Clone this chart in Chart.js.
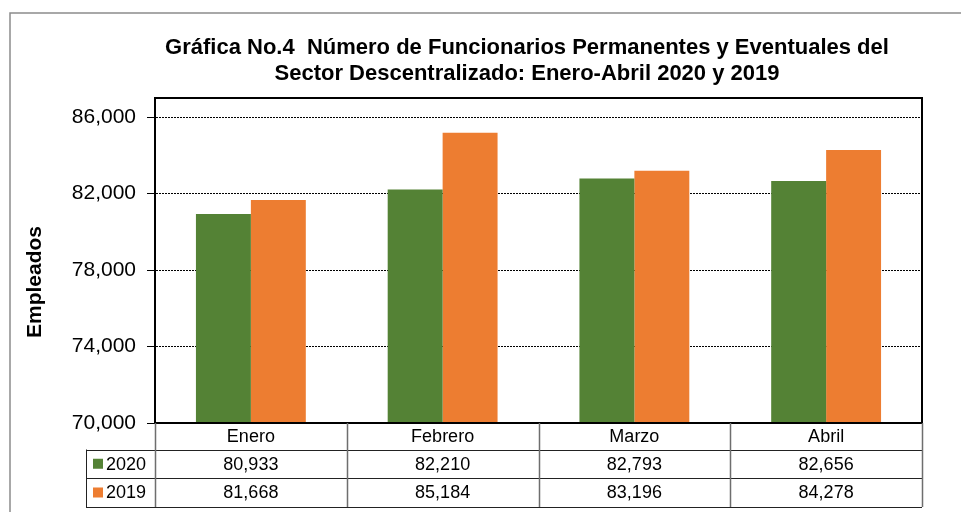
<!DOCTYPE html>
<html>
<head>
<meta charset="utf-8">
<script src="https://cdn.jsdelivr.net/npm/chart.js@4.4.1/dist/chart.umd.min.js"></script>
<style>
  html, body { margin: 0; padding: 0; background: #fff; }
  #wrap { position: relative; width: 961px; height: 512px; }
</style>
</head>
<body>
<div id="wrap"><canvas id="chart" width="961" height="512"></canvas></div>
<script>
/* ===============================
   DATA
================================ */
const months = ["Enero", "Febrero", "Marzo", "Abril"];
const years = ["2020", "2019"];
const values2020 = [80933, 82210, 82793, 82656];
const values2019 = [81668, 85184, 83196, 84278];
const yTicks = [70000, 74000, 78000, 82000, 86000];
const titleLines = [
  "Gráfica No.4  Número de Funcionarios Permanentes y Eventuales del",
  "Sector Descentralizado: Enero-Abril 2020 y 2019"
];
const yTitle = "Empleados";
const seriesColors = ["#548235", "#ED7D31"];

const FONT = '"Liberation Sans", Arial, sans-serif';
const fmt = v => v.toLocaleString("en-US");

/* ===============================
   FRAME, TITLE AND DATA TABLE
================================ */
const tablePlugin = {
  id: "tablePlugin",
  afterDraw(chart) {
    const ctx = chart.ctx;
    const area = chart.chartArea;
    const xs = chart.scales.x;
    const catW = (area.right - area.left) / months.length;

    ctx.save();

    // outer frame
    ctx.strokeStyle = "#8c8c8c";
    ctx.lineWidth = 1.5;
    ctx.beginPath();
    ctx.moveTo(10, 600);
    ctx.lineTo(10, 13);
    ctx.lineTo(1000, 13);
    ctx.stroke();

    // title
    ctx.fillStyle = "#000";
    ctx.font = "bold 22px " + FONT;
    ctx.textAlign = "center";
    ctx.textBaseline = "middle";
    ctx.fillText(titleLines[0], 527, 48);
    ctx.fillText(titleLines[1], 527, 74);

    // y title
    ctx.save();
    ctx.translate(35, 282);
    ctx.rotate(-Math.PI / 2);
    ctx.font = "bold 21px " + FONT;
    ctx.fillText(yTitle, 0, 0);
    ctx.restore();

    // plot border
    ctx.strokeStyle = "#000";
    ctx.lineWidth = 2;
    ctx.strokeRect(area.left, area.top, area.right - area.left, area.bottom - area.top);

    // table rows
    const rowY = [area.bottom, area.bottom + 26.5, area.bottom + 55, area.bottom + 84];
    const legendLeft = 86;

    ctx.lineWidth = 1;
    ctx.strokeStyle = "#222";
    ctx.beginPath();
    for (let r = 1; r < rowY.length; r++) {
      ctx.moveTo(legendLeft, Math.round(rowY[r]) + 0.5);
      ctx.lineTo(area.right, Math.round(rowY[r]) + 0.5);
    }
    ctx.moveTo(legendLeft + 0.5, rowY[1]);
    ctx.lineTo(legendLeft + 0.5, rowY[3]);
    ctx.stroke();

    ctx.strokeStyle = "#6e6e6e";
    ctx.lineWidth = 1.5;
    ctx.beginPath();
    for (let i = 0; i <= months.length; i++) {
      const x = Math.round(area.left + i * catW) + 0.5;
      ctx.moveTo(x, rowY[0]);
      ctx.lineTo(x, rowY[3]);
    }
    ctx.stroke();

    // header + values
    ctx.fillStyle = "#000";
    ctx.font = "18px " + FONT;
    const series = [values2020, values2019];
    months.forEach((m, i) => {
      const cx = xs.getPixelForValue(i);
      ctx.fillText(m, cx, (rowY[0] + rowY[1]) / 2 + 1);
      series.forEach((vals, s) => {
        ctx.fillText(fmt(vals[i]), cx, (rowY[s + 1] + rowY[s + 2]) / 2 + 1);
      });
    });

    // legend keys
    ctx.textAlign = "left";
    years.forEach((y, s) => {
      const cy = (rowY[s + 1] + rowY[s + 2]) / 2;
      ctx.fillStyle = seriesColors[s];
      ctx.fillRect(93, cy - 5, 10, 10);
      ctx.fillStyle = "#000";
      ctx.fillText(y, 106, cy + 1);
    });

    ctx.restore();
  }
};

/* ===============================
   CHART
================================ */
const chart = new Chart(document.getElementById("chart"), {
  type: "bar",
  data: {
    labels: months,
    datasets: [
      {
        label: years[0],
        data: values2020,
        backgroundColor: seriesColors[0],
        categoryPercentage: 0.573,
        barPercentage: 1.0,
        borderWidth: 0
      },
      {
        label: years[1],
        data: values2019,
        backgroundColor: seriesColors[1],
        categoryPercentage: 0.573,
        barPercentage: 1.0,
        borderWidth: 0
      }
    ]
  },
  options: {
    responsive: false,
    animation: false,
    layout: {
      padding: { top: 98, left: 55, right: 39, bottom: 89 }
    },
    plugins: {
      legend: { display: false },
      title: { display: false },
      tooltip: { enabled: false }
    },
    scales: {
      x: { display: false },
      y: {
        min: 70000,
        max: 87000,
        afterFit(scale) {
          scale.width = 100;
        },
        afterBuildTicks(scale) {
          scale.ticks = yTicks.map(v => ({ value: v }));
        },
        ticks: {
          padding: 11,
          color: "#000",
          font: { family: FONT, size: 21 },
          callback: v => fmt(v)
        },
        grid: {
          color: "#000",
          lineWidth: 1,
          tickLength: 8,
          tickColor: "#000",
          tickBorderDash: [],
          borderDash: [2, 1]
        },
        border: { display: true, color: "#000", width: 2, dash: [2, 1] }
      }
    }
  },
  plugins: [tablePlugin]
});
</script>
</body>
</html>
